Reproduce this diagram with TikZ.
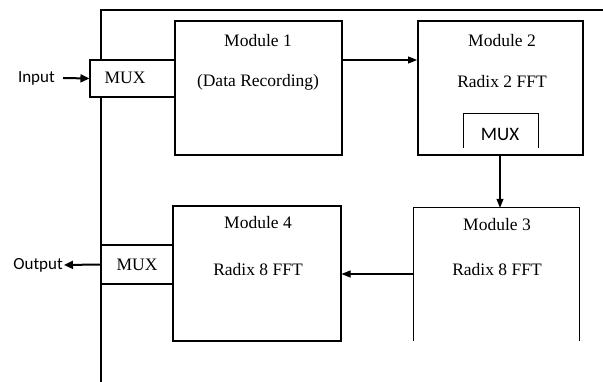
\documentclass[tikz,border=0pt]{standalone}
\usepackage{fontspec}
\setmainfont{Liberation Serif}
\newfontfamily\labelfont{Carlito}
\usetikzlibrary{arrows.meta}
\begin{document}
\begin{tikzpicture}[x=1pt,y=-1pt,
  thickbox/.style={draw,line width=1.8pt,inner sep=0pt},
  thinbox/.style={draw,line width=1.1pt,inner sep=0pt},
  openbox/.style={inner sep=0pt},
  serif/.style={font=\fontsize{17.5}{20}\selectfont,inner sep=0pt},
  sans/.style={font=\labelfont\fontsize{17}{20}\selectfont,inner sep=0pt},
  conn/.style={line width=1.1pt,-{Triangle[length=9pt,width=7pt]}},
  bold/.style={line width=2pt,-{Triangle[length=9pt,width=8pt]}}
]
\useasboundingbox (0,0) rectangle (603,382);
% frame
\coordinate (fb) at (101,382);
\coordinate (ft) at (101,10);
\coordinate (fr) at (603,10);
\draw[line width=1.1pt] (fb) -- (ft) -- (fr);
% boxes
\node[thinbox,fill=white,minimum width=85pt,minimum height=37pt] (muxin) at (132.5,78.5) {};
\node[thickbox,fill=white,minimum width=167pt,minimum height=134pt] (m1) at (258.5,88) {};
\node[thickbox,minimum width=165pt,minimum height=134pt] (m2) at (500.5,88) {};
\node[openbox,minimum width=74pt,minimum height=34pt] (mux2) at (501,131) {};
\draw[line width=1.1pt] (mux2.south west) -- (mux2.north west) -- (mux2.north east) -- (mux2.south east);
\node[openbox,minimum width=165pt,minimum height=133pt] (m3) at (496.5,274.5) {};
\draw[line width=1.1pt] (m3.south west) -- (m3.north west) -- (m3.north east) -- (m3.south east);
\node[thinbox,minimum width=168pt,minimum height=135pt] (m4) at (257,273.5) {};
\node[thinbox,minimum width=72pt,minimum height=39pt] (muxout) at (137,264.5) {};
\draw[line width=1.8pt] (muxout.north west) -- (muxout.north east);
% texts
\node[serif] (t1a) at (258,41) {Module 1};
\node[serif] (t1b) at (258,82) {(Data Recording)};
\node[serif] (t2a) at (502,41) {Module 2};
\node[serif] (t2b) at (502,82) {Radix 2 FFT};
\node[sans,font=\labelfont\fontsize{19}{22}\selectfont] (t2c) at (500,134) {MUX};
\node[serif] (t3a) at (497,225) {Module 3};
\node[serif] (t3b) at (497,270) {Radix 8 FFT};
\node[serif] (t4a) at (258,223) {Module 4};
\node[serif] (t4b) at (258,270) {Radix 8 FFT};
\node[serif] (tin) at (125,78) {MUX};
\node[serif] (tout) at (137,265) {MUX};
\node[sans,anchor=east] (input) at (55,78) {Input};
\node[sans,anchor=east] (output) at (63,265) {Output};
% connectors
\coordinate (inA) at (63,78);
\draw[bold] (inA) -- (muxin.west);
\draw[conn] (m1.east |- 0,60) -- (m2.west |- 0,60);
\draw[conn] (m2.south -| 500,0) -- (m3.north -| 500,0);
\draw[conn] (m3.west |- 0,274) -- (m4.east |- 0,274);
\coordinate (outA) at (64,265);
\draw[bold] (muxout.west) -- (outA);
\end{tikzpicture}
\end{document}
